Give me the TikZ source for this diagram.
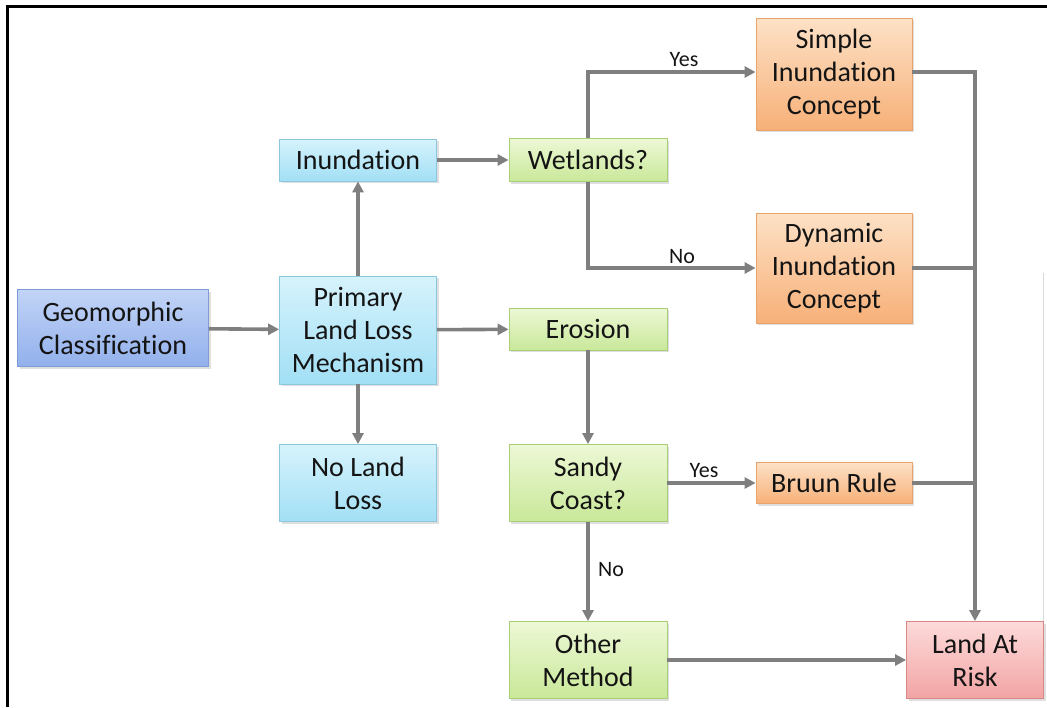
\documentclass[tikz,border=0pt]{standalone}
\usepackage{fontspec}
\setmainfont{Carlito}[Ligatures={NoCommon,NoContextual}]
\usetikzlibrary{arrows.meta,shadows}

\definecolor{linkgray}{HTML}{7F7F7F}
\definecolor{txt}{HTML}{141414}
\definecolor{blueline}{HTML}{7F9BD6}
\definecolor{bluetop}{HTML}{C2D4F7}
\definecolor{bluebot}{HTML}{92B0EC}
\definecolor{cyanline}{HTML}{8CC7DE}
\definecolor{cyantop}{HTML}{D6F3FC}
\definecolor{cyanbot}{HTML}{A2DFF5}
\definecolor{greenline}{HTML}{A8CF76}
\definecolor{greentop}{HTML}{EDF8D6}
\definecolor{greenbot}{HTML}{C9E899}
\definecolor{orangeline}{HTML}{E8A46A}
\definecolor{orangetop}{HTML}{FDE1C6}
\definecolor{orangebot}{HTML}{F7B078}
\definecolor{redline}{HTML}{D98888}
\definecolor{redtop}{HTML}{FDDADA}
\definecolor{redbot}{HTML}{F2A4A4}

\tikzset{
  box/.style={rectangle, draw, line width=0.8pt, inner sep=0pt, align=center,
    text=txt, font=\fontsize{28}{33}\selectfont,
    drop shadow={opacity=0.25, shadow xshift=2pt, shadow yshift=-2pt}},
  bluebox/.style={box, draw=blueline, top color=bluetop, bottom color=bluebot},
  cyanbox/.style={box, draw=cyanline, top color=cyantop, bottom color=cyanbot},
  greenbox/.style={box, draw=greenline, top color=greentop, bottom color=greenbot},
  orangebox/.style={box, draw=orangeline, top color=orangetop, bottom color=orangebot},
  redbox/.style={box, draw=redline, top color=redtop, bottom color=redbot},
  link/.style={draw=linkgray, line width=3.6pt,
    -{Triangle[length=11pt,width=11pt]}},
  plainlink/.style={draw=linkgray, line width=3.6pt},
  lbl/.style={text=txt, font=\fontsize{22}{24}\selectfont, inner sep=0pt}
}

\begin{document}
\begin{tikzpicture}[x=1pt,y=-1pt]
\useasboundingbox (0,0) rectangle (1047,707);

% outer frame
\draw[line width=3pt, black] (7,707) -- (7,6) -- (1047,6);
\draw[line width=1pt, black!15] (1043,273) -- (1043,643);

% first column
\node[bluebox, minimum width=191pt, minimum height=77pt] (geo) at (113,328)
  {Geomorphic\\Classification};

% second column
\node[cyanbox, minimum width=157pt, minimum height=42pt] (inund) at (358,160) {Inundation};
\node[cyanbox, minimum width=157pt, minimum height=108pt] (prim) at (358,330)
  {Primary\\Land Loss\\Mechanism};
\node[cyanbox, minimum width=157pt, minimum height=77pt] (noloss) at (358,483)
  {No Land\\Loss};

% third column
\node[greenbox, minimum width=158pt, minimum height=43pt] (wet) at (588,160) {Wetlands?};
\node[greenbox, minimum width=158pt, minimum height=42pt] (eros) at (588,329) {Erosion};
\node[greenbox, minimum width=158pt, minimum height=77pt] (sandy) at (588,483)
  {Sandy\\Coast?};
\node[greenbox, minimum width=158pt, minimum height=77pt] (other) at (588,660)
  {Other\\Method};

% fourth column
\node[orangebox, minimum width=156pt, minimum height=112pt] (simple) at (834,74)
  {Simple\\Inundation\\Concept};
\node[orangebox, minimum width=156pt, minimum height=110pt] (dyn) at (834,268)
  {Dynamic\\Inundation\\Concept};
\node[orangebox, minimum width=156pt, minimum height=41pt] (bruun) at (834,483) {Bruun Rule};
\node[redbox, minimum width=137pt, minimum height=77pt] (risk) at (975,660)
  {Land At\\Risk};

% routing points
\coordinate (yesbend) at (588,72);
\coordinate (nobend) at (588,268);
\coordinate (collect) at (975,72);

% connectors
\draw[link] (geo) -- (prim);
\draw[link] (prim) -- (inund);
\draw[link] (prim) -- (noloss);
\draw[link] (prim) -- (eros);
\draw[link] (inund) -- (wet);
\draw[link] (wet.north) -- (yesbend) -- (yesbend -| simple.west);
\draw[link] (wet.south) -- (nobend) -- (dyn.west);
\draw[link] (eros) -- (sandy);
\draw[link] (sandy) -- (bruun);
\draw[link] (sandy) -- (other);
\draw[link] (other) -- (risk);
\draw[link] (simple.east |- collect) -- (collect) -- (risk.north);
\draw[plainlink] (dyn.east) -- (dyn.east -| collect);
\draw[plainlink] (bruun.east) -- (bruun.east -| collect);

% branch labels
\node[lbl] (l1) at (684,60) {Yes};
\node[lbl] (l2) at (682,257) {No};
\node[lbl] (l3) at (704,471) {Yes};
\node[lbl] (l4) at (611,570) {No};
\end{tikzpicture}
\end{document}
